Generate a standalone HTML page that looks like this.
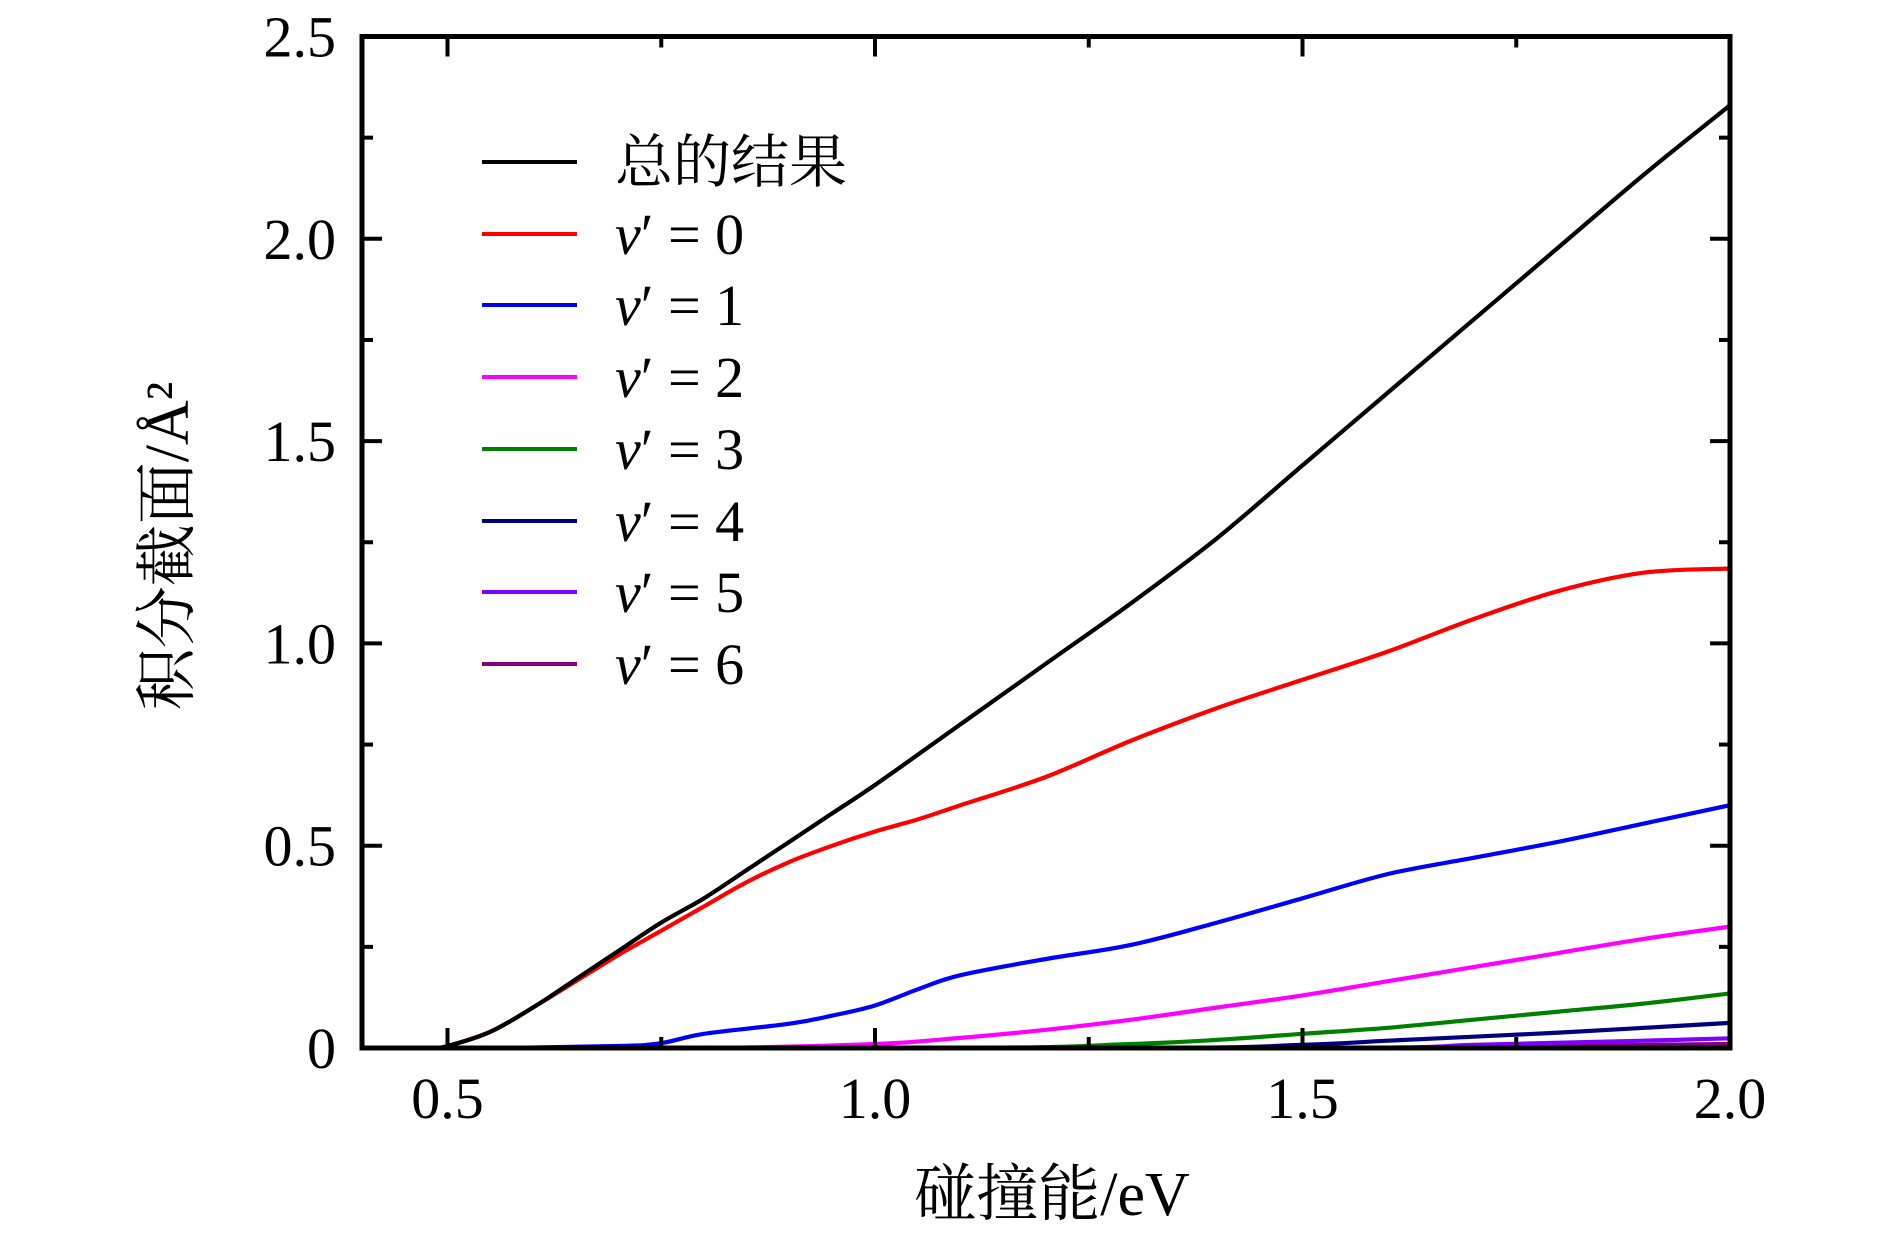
<!DOCTYPE html>
<html><head><meta charset="utf-8"><style>
html,body{margin:0;padding:0;background:#fff;}
svg{display:block;}
text{font-family:"Liberation Serif","Noto Serif CJK SC",serif;fill:#000;}
</style></head><body>
<svg id="chart" width="1890" height="1252" viewBox="0 0 1890 1252" xmlns="http://www.w3.org/2000/svg">
<g id="marks"></g>
<g id="axes"></g>
<g id="legend"></g>
<text transform="translate(188,546) rotate(-90)" text-anchor="middle" font-size="62">积分截面/Å²</text>
<text x="1052" y="1215" text-anchor="middle" font-size="62">碰撞能/eV</text>
</svg>
<script>
const xTicks=[0.5,1.0,1.5,2.0];
const xTickLabels=["0.5","1.0","1.5","2.0"];
const yTicks=[0,0.5,1.0,1.5,2.0,2.5];
const yTickLabels=["0","0.5","1.0","1.5","2.0","2.5"];
const seriesNames=["总的结果","v′=0","v′=1","v′=2","v′=3","v′=4","v′=5","v′=6"];
const seriesColors=["#000000","#ff0000","#0000ff","#ff00ff","#008000","#000080","#8000ff","#800080"];
const totalX=[0.4,0.48,0.5,0.55,0.6,0.65,0.7,0.75,0.8,0.85,0.9,0.95,1.0,1.1,1.2,1.3,1.4,1.5,1.6,1.7,1.8,1.9,2.0];
const totalY=[0,0,0.005,0.04,0.1,0.17,0.24,0.31,0.37,0.44,0.51,0.58,0.65,0.8,0.95,1.1,1.26,1.44,1.62,1.8,1.98,2.16,2.33];
const v0X=[0.4,0.48,0.5,0.55,0.6,0.65,0.7,0.75,0.8,0.85,0.9,0.95,1.0,1.05,1.1,1.2,1.3,1.4,1.5,1.6,1.7,1.8,1.9,2.0];
const v0Y=[0,0,0.005,0.04,0.1,0.165,0.23,0.29,0.35,0.41,0.46,0.5,0.535,0.565,0.6,0.67,0.76,0.84,0.91,0.98,1.06,1.13,1.175,1.185];
const v1X=[0.4,0.55,0.7,0.75,0.8,0.9,0.95,1.0,1.05,1.1,1.2,1.3,1.4,1.5,1.6,1.7,1.8,1.9,2.0];
const v1Y=[0,0,0.005,0.012,0.035,0.06,0.08,0.105,0.145,0.18,0.22,0.255,0.31,0.37,0.43,0.47,0.51,0.555,0.6];
const v2X=[0.4,0.8,1.0,1.1,1.2,1.3,1.4,1.5,1.6,1.7,1.8,1.9,2.0];
const v2Y=[0,0,0.01,0.025,0.045,0.07,0.1,0.13,0.165,0.2,0.235,0.27,0.3];
const v3X=[0.4,1.1,1.3,1.4,1.5,1.6,1.7,1.8,1.9,2.0];
const v3Y=[0,0,0.01,0.02,0.035,0.05,0.07,0.09,0.11,0.135];
const v4X=[0.4,1.3,1.5,1.6,1.7,1.8,1.9,2.0];
const v4Y=[0,0,0.008,0.018,0.028,0.038,0.05,0.062];
const v5X=[0.4,1.5,1.7,1.8,1.9,2.0];
const v5Y=[0,0,0.008,0.013,0.018,0.024];
const v6X=[0.4,1.6,1.8,2.0];
const v6Y=[0,0,0.005,0.01];
const NS="http://www.w3.org/2000/svg";
const L=362,R=1730,T=36.5,B=1048,X0=0.4,X1=2.0,Y0=0,Y1=2.5;
function sx(v){return L+(v-X0)/(X1-X0)*(R-L);}
function sy(v){return B-(v-Y0)/(Y1-Y0)*(B-T);}
function mk(tag,attrs,parent){const e=document.createElementNS(NS,tag);for(const k in attrs)e.setAttribute(k,attrs[k]);parent.appendChild(e);return e;}
const marks=document.getElementById('marks'),axes=document.getElementById('axes'),legend=document.getElementById('legend');
const seriesX=[totalX,v0X,v1X,v2X,v3X,v4X,v5X,v6X];
const seriesY=[totalY,v0Y,v1Y,v2Y,v3Y,v4Y,v5Y,v6Y];
const clip=mk('clipPath',{id:'cp'},marks);mk('rect',{x:L,y:T,width:R-L,height:B-T},clip);
function smoothPath(pts){
  let d='M'+pts[0][0].toFixed(1)+','+pts[0][1].toFixed(1);
  for(let i=0;i<pts.length-1;i++){
    const p0=pts[Math.max(i-1,0)],p1=pts[i],p2=pts[i+1],p3=pts[Math.min(i+2,pts.length-1)];
    const c1x=p1[0]+(p2[0]-p0[0])/6,c1y=p1[1]+(p2[1]-p0[1])/6;
    const c2x=p2[0]-(p3[0]-p1[0])/6,c2y=p2[1]-(p3[1]-p1[1])/6;
    d+='C'+c1x.toFixed(1)+','+c1y.toFixed(1)+' '+c2x.toFixed(1)+','+c2y.toFixed(1)+' '+p2[0].toFixed(1)+','+p2[1].toFixed(1);
  }
  return d;
}
for(let s=seriesX.length-1;s>=0;s--){
  const pts=seriesX[s].map((x,i)=>[sx(x),Math.min(B,sy(seriesY[s][i]))]);
  const p=mk('path',{d:smoothPath(pts),fill:'none',stroke:seriesColors[s],'stroke-width':4.2,'stroke-linejoin':'round','clip-path':'url(#cp)'},marks);
  
  
}
const frame=mk('rect',{x:L,y:T,width:R-L,height:B-T,fill:'none',stroke:'#000','stroke-width':5},axes);


for(let v=0.5;v<=2.0001;v+=0.25){
  const major=Math.abs(v*2-Math.round(v*2))<1e-6;const len=major?20:11;const x=sx(v);
  const t1=mk('line',{x1:x,x2:x,y1:B,y2:B-len,stroke:'#000','stroke-width':4},axes);
  
  
  const t2=mk('line',{x1:x,x2:x,y1:T,y2:T+len,stroke:'#000','stroke-width':4},axes);
  
  
}
for(let v=0.25;v<2.5;v+=0.25){
  const major=Math.abs(v*2-Math.round(v*2))<1e-6;const len=major?20:11;const y=sy(v);
  const t1=mk('line',{x1:L,x2:L+len,y1:y,y2:y,stroke:'#000','stroke-width':4},axes);
  
  
  const t2=mk('line',{x1:R,x2:R-len,y1:y,y2:y,stroke:'#000','stroke-width':4},axes);
  
  
}
xTicks.forEach((v,i)=>{
  const t=mk('text',{x:sx(v),y:1118,'text-anchor':'middle','font-size':58},axes);t.textContent=xTickLabels[i];
  
  
});
yTicks.forEach((v,i)=>{
  const t=mk('text',{x:336,y:sy(v)+20,'text-anchor':'end','font-size':58},axes);t.textContent=yTickLabels[i];
  
  
});
const rowY=[162,234,305,377,449,521,592,664];
seriesNames.forEach((n,i)=>{
  const g=mk('g',{},legend);
  
  
  mk('line',{x1:482,x2:577,y1:rowY[i],y2:rowY[i],stroke:seriesColors[i],'stroke-width':4},g);
  const t=mk('text',{x:615,y:rowY[i]+20,'font-size':58},g);
  if(i===0){t.textContent=n;}else{
    const a=mk('tspan',{'font-style':'italic'},t);a.textContent='v';
    const b=mk('tspan',{},t);b.textContent='′ = '+(i-1);
  }
});
</script>
</body></html>
